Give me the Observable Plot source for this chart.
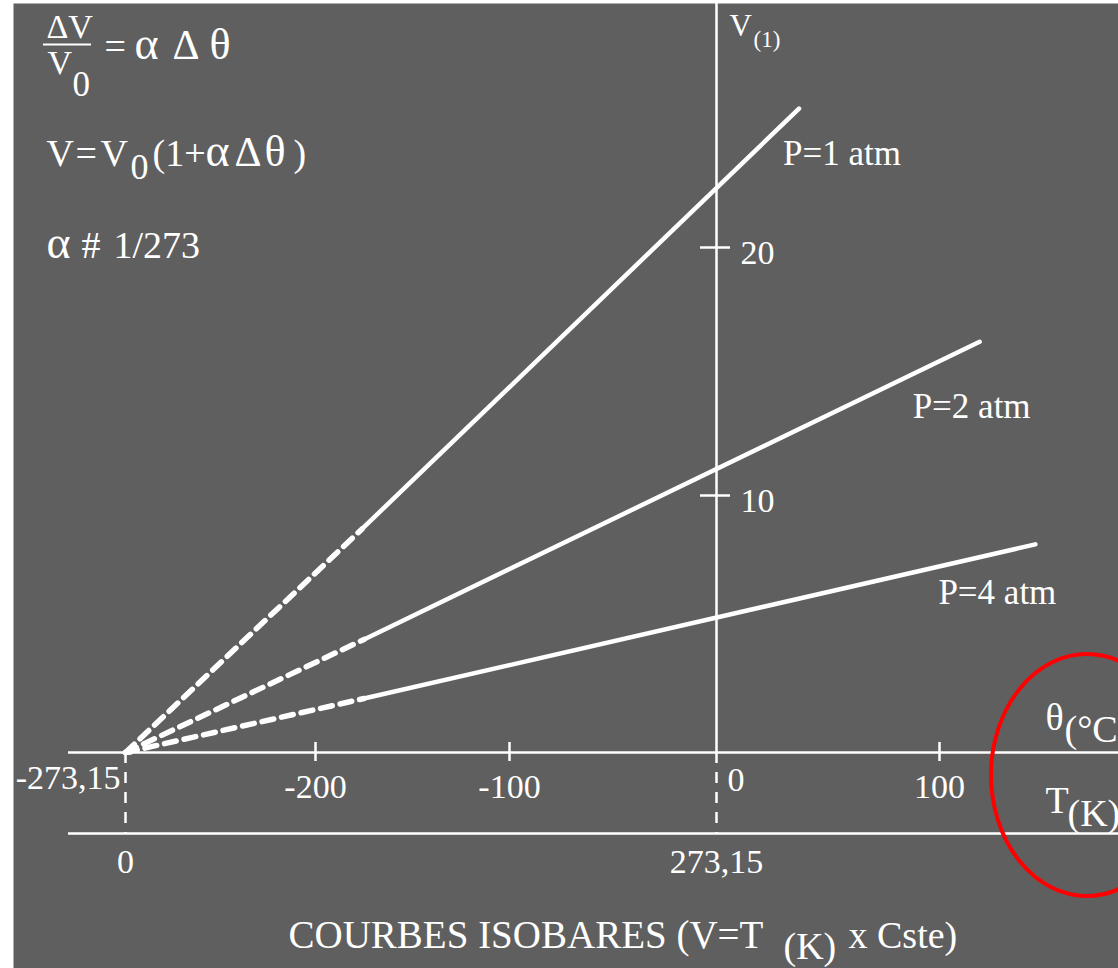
<!DOCTYPE html>
<html>
<head>
<meta charset="utf-8">
<script src="https://cdn.jsdelivr.net/npm/d3@7"></script>
<script src="https://cdn.jsdelivr.net/npm/@observablehq/plot@0.6"></script>
<style>
  html, body { margin: 0; padding: 0; background: #ffffff; overflow: hidden; }
  #chart svg { display: block; }
</style>
</head>
<body>
<div id="chart"></div>
<script>
// ---------- data ----------
const pressures = ["P=1 atm", "P=2 atm", "P=4 atm"];
const solidStartTheta = [-176, -175, -175];   // °C where the measured (solid) part begins
const solidStartV = [8.7, 4.4, 2.1];          // V (l)
const solidEndTheta = [37, 118, 143];         // °C where the lines end
const solidEndV = [25.6, 16.2, 8.1];          // V (l)
const absoluteZero = -273.15;
const thetaTicks = [-200, -100, 100];
const thetaTickLabels = ["-200", "-100", "100"];
const vTicks = [10, 20];
const vTickLabels = ["10", "20"];
const kelvinTicks = [0, 273.15];
const kelvinTickLabels = ["0", "273,15"];

// ---------- layout of the hand-drawn (piecewise) axes ----------
const W = 1118, H = 968;
const BG = "#5f5f5f";
const FONT = "'Liberation Serif', 'Times New Roman', serif";
const xDomain = [absoluteZero, -200, -100, 0, 100];
const xRange = [125, 315, 509, 716, 939];
const yDomain = [0, 10, 20];
const yRange = [752, 495, 247];
const xs = d3.scaleLinear(xDomain, xRange);
const ys = d3.scaleLinear(yDomain, yRange);

// ---------- tables built from the arrays ----------
const solidRows = pressures.flatMap((p, i) => [
  {p, theta: solidStartTheta[i], v: solidStartV[i]},
  {p, theta: solidEndTheta[i], v: solidEndV[i]}
]);
const dashedRows = pressures.flatMap((p, i) => [
  {p, theta: absoluteZero, v: 0},
  {p, theta: solidStartTheta[i], v: solidStartV[i]}
]);
const endRows = pressures.map((p, i) => ({p, theta: solidEndTheta[i], v: solidEndV[i]}));

const white = {stroke: "white"};
const txt = {fill: "white", fontFamily: FONT, lineAnchor: "bottom"};

// free-standing text placed from the top-left corner of the frame (13, 3)
function note(str, x, y, size, extra = {}) {
  return Plot.text([str], {
    frameAnchor: "top-left", text: d => d,
    dx: x - 13, dy: y - 3, fontSize: size, textAnchor: "start", ...txt, ...extra
  });
}
function pLabel(i, dx, dy) {
  return Plot.text([endRows[i]], {
    x: "theta", y: "v", text: "p", dx, dy, fontSize: 35, textAnchor: "start", ...txt
  });
}

const chart = Plot.plot({
  width: W,
  height: H,
  marginLeft: 13, marginTop: 3, marginRight: 0, marginBottom: 0,
  style: {background: "#ffffff", color: "white"},
  x: {type: "linear", domain: xDomain, range: xRange, axis: null},
  y: {type: "linear", domain: yDomain, range: yRange, axis: null},
  marks: [
    Plot.frame({fill: BG, stroke: "none"}),
    // θ axis and T axis
    Plot.ruleY([0], {x1: xs.invert(68), x2: xs.invert(W + 5), strokeWidth: 2.5, ...white}),
    Plot.ruleY([0], {x1: xs.invert(68), x2: xs.invert(W + 5), dy: 81, strokeWidth: 2.5, ...white}),
    // V axis
    Plot.ruleX([0], {y1: 0, y2: ys.invert(0), strokeWidth: 2.5, ...white}),
    // dashed links between the two temperature scales
    Plot.ruleX([absoluteZero, 0], {y1: 0, y2: ys.invert(833), strokeWidth: 2.5, strokeDasharray: "11,9", ...white}),
    // ticks
    Plot.ruleX(thetaTicks, {y1: ys.invert(761), y2: ys.invert(742), strokeWidth: 2.5, ...white}),
    Plot.ruleY(vTicks, {x1: xs.invert(700), x2: xs.invert(730), strokeWidth: 2.5, ...white}),
    // isobars: extrapolated part (dashed) and measured part (solid)
    Plot.line(dashedRows, {x: "theta", y: "v", z: "p", strokeWidth: 5.5, strokeDasharray: "12,8", ...white}),
    Plot.line(solidRows, {x: "theta", y: "v", z: "p", strokeWidth: 4.5, strokeLinecap: "round", ...white}),
    Plot.dot([{theta: absoluteZero, v: 0}], {x: "theta", y: "v", r: 3.5, fill: "white", dx: 4, dy: -1}),
    // tick labels
    Plot.text(thetaTicks, {x: d => d, y: 0, text: (d, i) => thetaTickLabels[i], dy: 45, fontSize: 34, textAnchor: "middle", ...txt}),
    Plot.text([absoluteZero], {x: d => d, y: 0, text: () => "-273,15", dx: -5, dy: 36, fontSize: 34, textAnchor: "end", ...txt}),
    Plot.text([0], {x: d => d, y: 0, text: () => "0", dx: 11, dy: 38, fontSize: 34, textAnchor: "start", ...txt}),
    Plot.text(kelvinTicks, {x: d => d + absoluteZero, y: 0, text: (d, i) => kelvinTickLabels[i], dy: 120, fontSize: 34, textAnchor: "middle", ...txt}),
    Plot.text(vTicks, {x: 0, y: d => d, text: (d, i) => vTickLabels[i], dx: 24, dy: 16, fontSize: 34, textAnchor: "start", ...txt}),
    // series labels
    pLabel(0, -16, 56),
    pLabel(1, -67, 76),
    pLabel(2, -97, 60),
    // axis names
    note("V", 729, 35, 31),
    note("(1)", 753, 46, 23),
    note("θ", 1045, 729, 38),
    note("(°C", 1064, 741, 38),
    note("T", 1045, 812, 38),
    note("(K)", 1067, 825, 38),
    // formulas
    note("ΔV", 46, 37, 34),
    Plot.ruleY([ys.invert(44)], {x1: xs.invert(43), x2: xs.invert(91), strokeWidth: 2, ...white}),
    note("V", 47, 73, 34),
    note("0", 72, 95, 35),
    note("=", 104, 58, 38),
    note("α", 134, 58, 46),
    note("Δ", 172, 58, 42),
    note("θ", 209, 58, 44),
    note("V", 46, 165, 38),
    note("=", 75, 165, 38),
    note("V", 100, 165, 38),
    note("0", 130, 178, 36),
    note("(1+", 152, 165, 38),
    note("α", 205, 165, 46),
    note("Δ", 234, 165, 42),
    note("θ", 264, 165, 44),
    note(")", 293, 165, 38),
    note("α", 46, 257, 46),
    note("#", 81, 257, 38),
    note("1/273", 113, 257, 38),
    // caption
    note("COURBES ISOBARES (V=T", 288, 947, 39),
    note("(K)", 783, 958, 38),
    note("x Cste)", 848, 947, 38),
    // red circle around the axis names
    () => {
      const e = document.createElementNS("http://www.w3.org/2000/svg", "ellipse");
      e.setAttribute("cx", 1087);
      e.setAttribute("cy", 775);
      e.setAttribute("rx", 96);
      e.setAttribute("ry", 121);
      e.setAttribute("fill", "none");
      e.setAttribute("stroke", "#ff0000");
      e.setAttribute("stroke-width", 4);
      return e;
    }
  ]
});
document.getElementById("chart").appendChild(chart);
</script>
</body>
</html>
